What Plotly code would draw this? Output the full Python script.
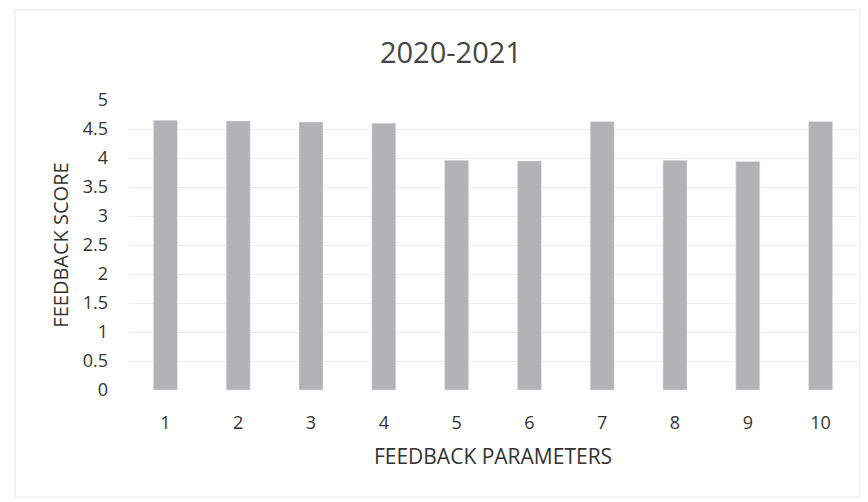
import plotly.graph_objects as go

categories = ["1", "2", "3", "4", "5", "6", "7", "8", "9", "10"]
scores = [4.65, 4.64, 4.62, 4.6, 3.96, 3.95, 4.63, 3.96, 3.94, 4.63]
y_ticks = [0, 0.5, 1, 1.5, 2, 2.5, 3, 3.5, 4, 4.5, 5]
y_tick_labels = ["0", "0.5", "1", "1.5", "2", "2.5", "3", "3.5", "4", "4.5", "5"]

fig = go.Figure(go.Bar(x=categories, y=scores, marker_color="#B1B3B5", width=0.33))

font = "Open Sans, Liberation Sans, sans-serif"
W, H = 860, 494
L, R, T, B = 121, 11, 92, 112
pw, ph = W - L - R, H - T - B
fig.update_layout(
    width=W, height=H,
    margin=dict(l=L, r=R, t=T, b=B, autoexpand=False),
    paper_bgcolor="white", plot_bgcolor="white",
    title=dict(text="2020-2021", xref="container", x=0.515, xanchor="center",
               yref="container", y=0.909, yanchor="middle",
               font=dict(family=font, size=29, color="#454545")),
    font=dict(family=font, size=18, color="#333333"),
    showlegend=False,
    shapes=[dict(type="rect", xref="paper", yref="paper",
                 x0=(7 - L) / pw, x1=(852 - L) / pw,
                 y0=(H - B - 489) / ph, y1=(H - B - 2) / ph,
                 line=dict(color="#E6E6E6", width=1))],
)
fig.update_xaxes(type="category", showgrid=False, ticks="", showline=False, automargin=False,
                 title=dict(text="FEEDBACK PARAMETERS", font=dict(size=21, color="#333333"), standoff=16),
                 tickfont=dict(size=18), ticklabelstandoff=20)
fig.update_yaxes(range=[0, 5], tickvals=y_ticks, ticktext=y_tick_labels, automargin=False,
                 showgrid=True, gridcolor="#EDEDED", zeroline=False,
                 title=dict(text="FEEDBACK SCORE", font=dict(size=20, color="#333333"), standoff=8),
                 tickfont=dict(size=18), ticklabelstandoff=20)

fig.write_html("out.html")
